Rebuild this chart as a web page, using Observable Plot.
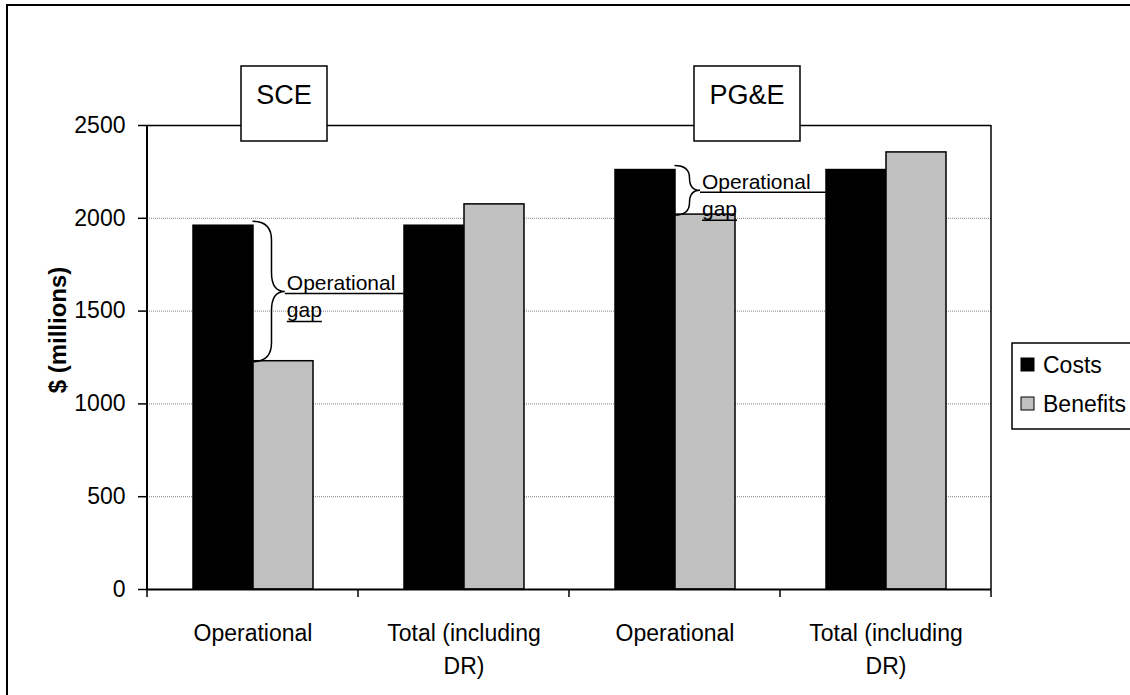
<!DOCTYPE html>
<html>
<head>
<meta charset="utf-8">
<script src="https://cdn.jsdelivr.net/npm/d3@7"></script>
<script src="https://cdn.jsdelivr.net/npm/@observablehq/plot@0.6"></script>
<style>
  html, body { margin: 0; padding: 0; background: #fff; width: 1130px; height: 695px; overflow: hidden; }
  #wrap { position: relative; width: 1130px; height: 695px; }
</style>
</head>
<body>
<div id="wrap"></div>
<script>
const FONT = "'Liberation Sans', Arial, Helvetica, sans-serif";

// ---- data ----
const groups = ["SCE", "SCE", "PG&E", "PG&E"];
const categories = ["Operational", "Total (including DR)", "Operational", "Total (including DR)"];
const tickLabels = ["Operational", "Total (including\nDR)", "Operational", "Total (including\nDR)"];
const series = ["Costs", "Benefits"];
const costs = [1960, 1960, 2260, 2260];
const benefits = [1230, 2075, 2020, 2355];
const yTicks = [0, 500, 1000, 1500, 2000, 2500];
const seriesColors = ["#000000", "#c0c0c0"];
const groupLabels = ["SCE", "PG&E"];
const yTitle = "$ (millions)";
const gapText = ["Operational", "gap"];

const keys = groups.map((g, i) => g + "|" + categories[i]);
const rows = keys.flatMap((k, i) => [
  {key: k, series: series[0], value: costs[i]},
  {key: k, series: series[1], value: benefits[i]}
]);

const chart = Plot.plot({
  width: 1130,
  height: 695,
  marginLeft: 147,
  marginRight: 139,
  marginTop: 125,
  marginBottom: 106,
  style: {fontFamily: FONT, fontSize: "23px", color: "#000", background: "transparent", overflow: "visible"},
  fx: {domain: keys, padding: 0, axis: null},
  x: {domain: series, paddingInner: 0, paddingOuter: 0.73, axis: null},
  y: {domain: [0, 2500], axis: null},
  color: {domain: series, range: seriesColors},
  marks: [
    Plot.ruleY(yTicks.slice(1, -1), {stroke: "#808080", strokeWidth: 1, strokeDasharray: "1,1"}),
    Plot.barY(rows, {fx: "key", x: "series", y: "value", fill: "series", stroke: "#000", strokeWidth: 1.5}),
    Plot.ruleY([2500], {stroke: "#000", strokeWidth: 1.5}),
    Plot.ruleY([0], {stroke: "#000", strokeWidth: 2}),
    Plot.axisY({ticks: yTicks, tickFormat: d => String(d), tickSize: 9, tickPadding: 13, label: null, fontSize: 23, strokeWidth: 1.5}),
    Plot.text(keys, {fx: d => d, text: d => tickLabels[keys.indexOf(d)], frameAnchor: "bottom", lineAnchor: "top", dy: 28, lineHeight: 1.43, fontSize: 23, fill: "#000"})
  ]
});

document.getElementById("wrap").appendChild(chart);

// ---- overlays computed from the library's scales ----
const svg = d3.select(chart);
const fxS = chart.scale("fx"), yS = chart.scale("y"), xS = chart.scale("x");
const L = fxS.apply(keys[0]);
const R = fxS.apply(keys[keys.length - 1]) + fxS.bandwidth;
const yTop = yS.apply(2500), yBot = yS.apply(0);
const g = svg.append("g").attr("font-family", FONT).attr("fill", "#000").attr("text-anchor", "start");

// axis line + plot-area border (right)
g.append("line").attr("x1", L).attr("x2", L).attr("y1", yTop).attr("y2", yBot + 1).attr("stroke", "#000").attr("stroke-width", 2);
g.append("line").attr("x1", R).attr("x2", R).attr("y1", yTop).attr("y2", yBot).attr("stroke", "#000").attr("stroke-width", 1.5);
// category boundary ticks
const bounds = keys.map(k => fxS.apply(k)).concat([R]);
bounds.forEach(bx => g.append("line").attr("x1", bx).attr("x2", bx).attr("y1", yBot).attr("y2", yBot + 8).attr("stroke", "#000").attr("stroke-width", 1.5));

// y title
g.append("text").attr("transform", `translate(${L - 81},330) rotate(-90)`)
  .attr("text-anchor", "middle").attr("font-weight", "bold").attr("font-size", 24).text(yTitle);

// outer chart border (continues beyond the visible area)
svg.append("path").attr("d", "M7,720 L7,5 L1160,5").attr("fill", "none").attr("stroke", "#000").attr("stroke-width", 2);

// "Operational gap" braces
function brace(x0, y0, y1, w) {
  const ym = (y0 + y1) / 2, xs = x0 + w, xt = xs + 0.7 * w;
  const r = Math.min(w, (y1 - y0) / 4);
  return {d: `M${x0},${y0} Q${xs},${y0} ${xs},${y0 + r} L${xs},${ym - r} Q${xs},${ym} ${xt},${ym} Q${xs},${ym} ${xs},${ym + r} L${xs},${y1 - r} Q${xs},${y1} ${x0},${y1}`, xt, ym};
}
[[0, 1, 19], [2, 3, 15]].forEach(([i, j, w]) => {
  const cx = fxS.apply(keys[i]) + fxS.bandwidth / 2;
  const y0 = yS.apply(costs[i]) - 4, y1 = yS.apply(benefits[i]) + 1;
  const b = brace(cx, y0, y1, w);
  g.append("path").attr("d", b.d).attr("fill", "none").attr("stroke", "#000").attr("stroke-width", 1.5);
  const ly = b.ym + 2;
  const tx = b.xt + 2;
  const nextLeft = fxS.apply(keys[j]) + fxS.bandwidth / 2 - xS.bandwidth;
  g.append("line").attr("x1", b.xt).attr("x2", nextLeft).attr("y1", ly).attr("y2", ly).attr("stroke", "#000").attr("stroke-width", 1.5);
  g.append("text").attr("x", tx).attr("y", ly - 3).attr("font-size", 21).text(gapText[0]);
  const t2 = g.append("text").attr("x", tx).attr("y", ly + 24).attr("font-size", 21).text(gapText[1]);
  const tw = t2.node().getComputedTextLength();
  g.append("line").attr("x1", tx).attr("x2", tx + tw).attr("y1", ly + 28).attr("y2", ly + 28).attr("stroke", "#000").attr("stroke-width", 1.5);
});

// group label boxes
const boxes = [{x: 241, w: 86}, {x: 694, w: 106}];
groupLabels.forEach((lab, i) => {
  const bx = boxes[i];
  g.append("rect").attr("x", bx.x).attr("y", 66).attr("width", bx.w).attr("height", 75)
    .attr("fill", "#fff").attr("stroke", "#000").attr("stroke-width", 1.5);
  g.append("text").attr("x", bx.x + bx.w / 2).attr("y", 104).attr("text-anchor", "middle").attr("font-size", 27).text(lab);
});

// legend
g.append("rect").attr("x", 1012).attr("y", 343).attr("width", 140).attr("height", 86)
  .attr("fill", "#fff").attr("stroke", "#000").attr("stroke-width", 1.5);
series.forEach((s, i) => {
  const yy = 358 + i * 39;
  g.append("rect").attr("x", 1021).attr("y", yy).attr("width", 13).attr("height", 13)
    .attr("fill", seriesColors[i]).attr("stroke", "#000").attr("stroke-width", 1);
  g.append("text").attr("x", 1043).attr("y", yy + 15).attr("font-size", 23).text(s);
});
</script>
</body>
</html>
